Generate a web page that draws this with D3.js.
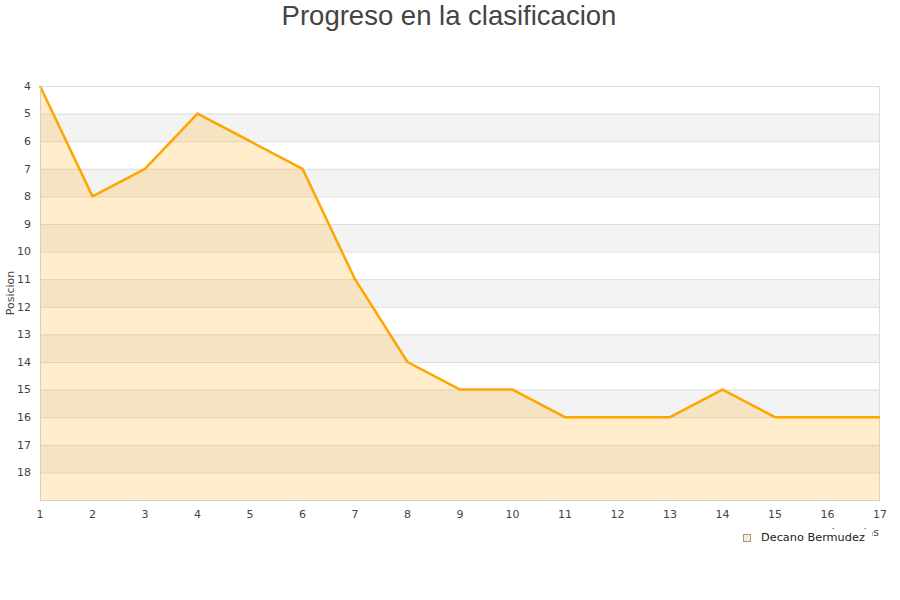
<!DOCTYPE html>
<html><head><meta charset="utf-8">
<script src="https://cdn.jsdelivr.net/npm/d3@7"></script>
<style>body{margin:0;background:#fff}</style>
</head><body><svg id="c" width="900" height="600"></svg>
<script>
const jornadas = [1,2,3,4,5,6,7,8,9,10,11,12,13,14,15,16,17];
const posicion = [4,8,7,5,6,7,11,14,15,15,16,16,16,15,16,16,16];
const yTicks = [4,5,6,7,8,9,10,11,12,13,14,15,16,17,18];
const seriesName = "Decano Bermudez";
const title = "Progreso en la clasificacion";

const svg = d3.select("#c");
const L=40,R=880,T=86,B=500;
const x = d3.scaleLinear().domain([1,17]).range([L,R]);
const y = d3.scaleLinear().domain([4,19]).range([T,B]);
const font = "DejaVu Sans, sans-serif";

// bands
const bands = d3.range(4,19);
svg.selectAll("rect.band").data(bands).enter().append("rect")
  .attr("x",L).attr("width",R-L)
  .attr("y",d=>y(d)).attr("height",d=>y(d+1)-y(d))
  .attr("fill",(d,i)=>i%2===1?"#f3f3f3":"#ffffff");
// grid lines
svg.selectAll("line.grid").data(yTicks).enter().append("line")
  .attr("x1",L).attr("x2",R).attr("y1",d=>y(d)+0.5).attr("y2",d=>y(d)+0.5)
  .attr("stroke","#dddddd");
svg.append("line").attr("x1",R-0.5).attr("x2",R-0.5).attr("y1",T).attr("y2",B).attr("stroke","#dddddd");

// area
const area = d3.area().x((d,i)=>x(jornadas[i])).y0(B).y1(d=>y(d));
svg.append("path").datum(posicion).attr("d",area).attr("fill","#ffa500").attr("fill-opacity",0.2);
const line = d3.line().x((d,i)=>x(jornadas[i])).y(d=>y(d));
svg.append("path").datum(posicion).attr("d",line).attr("fill","none").attr("stroke","#ffa500").attr("stroke-width",2.5).attr("stroke-linejoin","round");

// axes lines
svg.append("line").attr("x1",L+0.5).attr("x2",L+0.5).attr("y1",T).attr("y2",B).attr("stroke","#d0d0d0");
svg.append("line").attr("x1",L).attr("x2",R).attr("y1",B+0.5).attr("y2",B+0.5).attr("stroke","#d0d0d0");

// tick labels
svg.selectAll("text.yt").data(yTicks).enter().append("text")
  .attr("x",31).attr("y",d=>y(d)).attr("dy","0.35em").attr("text-anchor","end")
  .attr("font-family",font).attr("font-size",11).attr("fill","#444").text(d=>d);
svg.selectAll("text.xt").data(jornadas).enter().append("text")
  .attr("x",d=>x(d)).attr("y",518).attr("text-anchor","middle")
  .attr("font-family",font).attr("font-size",11).attr("fill","#444").text(d=>d);

// axis titles
svg.append("text").attr("transform","translate(14,293) rotate(-90)").attr("text-anchor","middle")
  .attr("font-family",font).attr("font-size",11).attr("fill","#444").text("Posicion");
svg.append("text").attr("x",879).attr("y",536).attr("text-anchor","end")
  .attr("font-family",font).attr("font-size",11).attr("fill","#444").text("Jornadas");

// legend
svg.append("rect").attr("x",735).attr("y",529).attr("width",137).attr("height",20).attr("fill","#fff");
svg.append("rect").attr("x",743.5).attr("y",534.5).attr("width",7).attr("height",7)
  .attr("fill","#ffebc8").attr("stroke","#999");
svg.append("text").attr("x",761).attr("y",541).attr("font-family",font).attr("font-size",11.3).attr("fill","#222").text(seriesName);

// title
svg.append("text").attr("x",449).attr("y",25).attr("text-anchor","middle")
  .attr("font-family","Liberation Sans, Arial, sans-serif").attr("font-size",27.5).attr("fill","#444").text(title);
</script></body></html>
